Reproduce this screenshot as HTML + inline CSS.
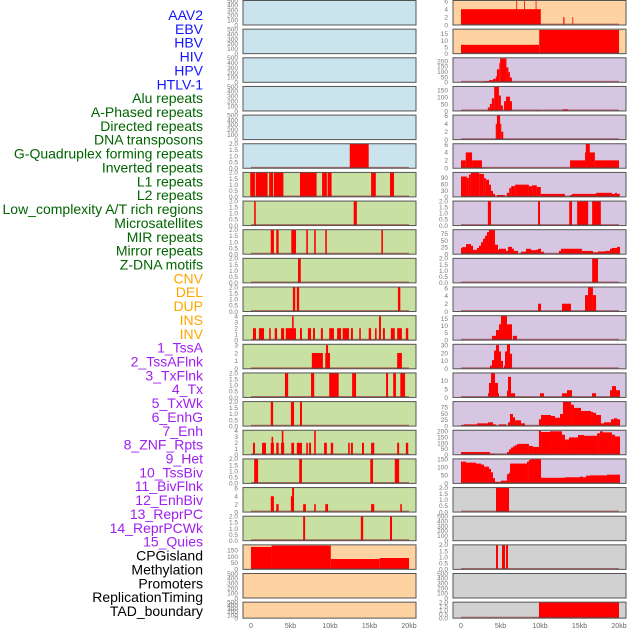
<!DOCTYPE html>
<html><head><meta charset="utf-8">
<style>
html,body{margin:0;padding:0;background:#fff;}
svg{display:block;font-family:"Liberation Sans",sans-serif;}
</style></head>
<body>
<svg id="chart" width="630" height="630" viewBox="0 0 630 630" xmlns="http://www.w3.org/2000/svg">
<g id="labels"></g>
<g id="panels"></g>
<g id="xaxes"></g>
</svg>
<script>
const trackLabels=["AAV2","EBV","HBV","HIV","HPV","HTLV-1","Alu repeats","A-Phased repeats","Directed repeats","DNA transposons","G-Quadruplex forming repeats","Inverted repeats","L1 repeats","L2 repeats","Low_complexity A/T rich regions","Microsatellites","MIR repeats","Mirror repeats","Z-DNA motifs","CNV","DEL","DUP","INS","INV","1_TssA","2_TssAFlnk","3_TxFlnk","4_Tx","5_TxWk","6_EnhG","7_Enh","8_ZNF_Rpts","9_Het","10_TssBiv","11_BivFlnk","12_EnhBiv","13_ReprPC","14_ReprPCWk","15_Quies","CPGisland","Methylation","Promoters","ReplicationTiming","TAD_boundary"];
const labelGroups=[6,13,5,15,5];
const groupColors=["#1414ff","#006400","#ffa500","#a020f0","#000000"];
const xTicks=[0,5,10,15,20];
const xTickLabels=["0","5kb","10kb","15kb","20kb"];
const T500=[0,100,200,300,400,500];
const T2=[0,0.5,1,1.5,2];
const T6=[0,2,4,6];
const T4=[0,1,2,3,4];
const T3=[0,1,2,3];
const T15=[0,5,10,15];
const T200=[0,50,100,150,200];
const T150=[0,50,100,150];
const T90=[0,30,60,90];
const T75=[0,25,50,75];
const T30=[0,10,20,30];
const T10=[0,5,10];

// left column segments [startKb,endKb,value]
const L5=[[12.5,14.9,2]];
const L6=[[-0.1,0.5,2],[0.6,2.1,2],[2.3,2.8,2],[2.9,4.1,2],[6.2,8.3,2],[9.0,9.6,2],[9.7,10.2,2],[15.2,15.8,2],[17.6,18.1,2]];
const L7=[[0.4,0.6,2],[13.0,13.4,2]];
const L8=[[2.5,2.9,2],[3.2,3.5,2],[5.1,5.7,2],[7.0,7.2,2],[8.0,8.2,2],[9.4,9.6,2],[16.5,16.7,2]];
const L9=[[5.95,6.3,2]];
const L10=[[5.3,5.6,2],[5.8,6.1,2],[18.6,18.9,2]];
const L11=[[0.25,0.63,2],[1.0,1.65,2],[2.3,2.5,2],[3.0,3.3,2],[3.8,4.2,2],[4.4,5.7,2],[5.2,5.4,4],[6.2,6.45,2],[7.2,7.6,2],[7.85,8.1,2],[8.85,9.1,2],[9.9,10.5,2],[10.9,11.4,2],[11.6,12.4,2],[12.65,12.9,2],[13.7,13.9,2],[14.9,15.2,2],[15.7,15.9,2],[16.2,16.45,4],[16.7,16.95,2],[17.7,18.2,2],[18.5,19.1,2],[19.6,19.9,2]];
const L12=[[7.7,9.1,2],[9.4,10.0,2],[9.5,9.75,3],[18.5,19.1,2]];
const L13=[[4.3,4.7,2],[7.6,8.0,2],[9.9,11.1,2],[12.8,13.3,2],[17.1,17.35,2],[18.0,18.35,2],[18.9,19.5,2]];
const L14=[[2.5,2.8,2],[5.05,5.45,2],[6.2,6.45,2]];
const L15=[[0.25,0.5,2],[1.4,1.9,2],[2.5,2.9,2],[2.6,2.8,3],[3.2,3.5,2],[3.8,4.2,2],[3.9,4.1,4],[5.1,5.45,2],[5.8,6.45,2],[7.0,7.2,2],[7.35,7.6,2],[8.0,8.2,4],[9.25,9.6,2],[10.1,10.4,2],[12.3,12.5,2],[12.65,12.9,2],[14.05,14.3,2],[15.2,15.6,2],[18.5,18.75,2],[19.6,19.9,2]];
const L16=[[0.4,0.9,2],[6.1,6.45,2],[15.1,15.45,2],[18.2,18.75,2]];
const L17=[[2.5,2.9,4],[3.2,3.5,2],[5.05,5.4,4],[5.2,5.45,6.2],[6.6,6.95,2],[8.0,8.2,2],[9.4,9.75,2],[15.2,15.6,2],[18.9,19.1,2]];
const L18=[[6.6,6.85,2],[13.9,14.2,2],[17.6,17.85,2]];
const L19=[[0,2.6,174],[2.6,10.1,184],[10.1,16.3,80],[16.3,20,88]];

// right column segments
const R0=[[0,10.1,4],[7.0,7.1,7],[8.0,8.1,7],[9.45,9.55,7],[12.95,13.1,2],[14.1,14.2,2]];
const R1=[[0,9.9,6.7],[9.9,20,18]];
const R2=[[2.8,3.55,10],[3.55,4.05,20],[4.05,4.4,32],[4.4,4.55,55],[4.55,4.85,122],[4.85,4.95,180],[4.95,5.75,225],[5.75,6.0,140],[6.0,6.2,95],[6.2,6.45,45]];
const R3=[[2.5,3.05,5],[3.4,3.65,25],[3.65,3.9,50],[3.9,4.2,90],[4.2,4.8,172],[4.8,5.05,110],[5.05,5.3,40],[5.45,5.7,70],[5.7,6.2,102],[6.2,6.45,70],[9.35,10.0,5],[12.9,13.55,12]];
const R4=[[4.4,4.55,4],[4.55,4.95,6.1],[4.95,5.1,4],[5.1,5.35,2]];
const R5=[[0,0.6,2],[0.6,1.4,4],[1.4,2.65,2],[13.8,15.7,2],[15.7,16.95,4],[15.8,16.3,6.2],[16.95,20,2]];
const R6=[[0,0.75,95],[0.75,1.0,88],[1.0,1.25,104],[1.25,2.3,114],[2.3,2.9,107],[2.9,3.15,88],[3.15,3.55,80],[3.55,3.8,57],[3.8,4.05,28],[4.05,4.3,14],[4.55,5.55,9],[5.8,6.1,19],[6.1,6.35,41],[6.35,6.85,50],[6.85,8.6,57],[8.6,9.0,50],[9.0,9.6,54],[9.6,10.1,46],[10.1,13.15,14],[13.8,14.05,9],[14.05,17.1,14],[17.1,19.1,19],[19.1,19.5,14],[19.5,19.75,19],[19.75,20.1,14]];
const R7=[[3.4,3.8,2],[9.75,10.0,2],[13.7,14.05,2],[14.7,16.1,2],[16.6,17.7,2]];
const R8=[[0,0.13,23],[0.13,0.63,26],[0.63,1.27,37],[1.27,1.52,31],[1.52,2.03,16],[2.03,2.28,23],[2.28,2.53,31],[2.53,2.78,44],[2.78,3.04,57],[3.04,3.29,68],[3.29,3.54,81],[3.54,4.3,89],[4.3,4.68,35],[4.68,4.81,16],[4.81,5.7,20],[5.7,5.95,12],[5.95,6.46,27],[6.46,6.71,20],[6.71,7.22,12],[7.59,8.23,9],[8.23,8.86,20],[8.86,9.49,15],[9.49,9.75,16],[9.75,10.13,20],[10.13,10.5,9],[12.4,12.66,12],[12.66,15.3,20],[15.3,16.7,12],[16.7,17.34,7],[17.34,18.23,10],[18.23,18.86,12],[18.86,19.11,20],[19.11,19.75,23],[19.75,20.13,27]];
const R9=[[16.6,17.34,2]];
const R10=[[9.75,10.13,2],[12.78,13.92,2],[15.7,16.08,4.2],[16.08,16.7,6.3],[16.7,17.1,4.2]];
const R11=[[3.92,4.43,3],[4.43,4.81,7],[4.81,5.06,11],[5.06,5.82,17],[5.82,6.46,11],[6.58,7.09,3]];
const R12=[[3.67,3.92,4],[3.92,4.18,11],[4.18,4.43,23],[4.43,4.81,30],[4.81,5.06,22],[5.06,5.32,10],[5.44,5.57,4],[5.57,5.82,22],[5.82,6.2,31],[6.2,6.46,19]];
const R13=[[3.42,3.54,2.5],[3.54,3.8,8.6],[3.8,4.3,14.5],[4.3,4.68,8.6],[4.68,4.81,2.5],[5.82,5.95,4],[5.95,6.33,12.2],[6.33,6.84,2.5],[10.0,10.5,2.5],[12.78,13.42,2.5],[13.42,14.05,4.3],[16.58,17.09,2.5],[18.86,19.11,4.3],[19.11,19.62,6.7],[19.62,20.13,4.3]];
const R14=[[0,0.38,4],[0.38,2.03,7],[2.03,3.42,11],[3.42,4.05,15],[4.05,4.43,7],[4.81,5.7,7],[5.95,6.2,15],[6.2,6.58,48],[6.58,6.84,35],[6.84,7.59,23],[7.59,8.1,11],[9.87,10.13,27],[10.13,11.39,44],[11.39,11.9,40],[11.9,12.53,33],[12.53,12.91,48],[12.91,13.92,97],[13.92,14.3,85],[14.3,15.19,72],[15.19,16.46,60],[16.46,16.71,56],[16.71,17.09,53],[17.09,17.72,44],[17.72,18.1,11],[18.1,18.99,15],[18.99,19.37,27],[19.37,19.75,31],[19.75,20.13,27]];
const R15=[[0,3.67,23],[3.67,4.3,9],[4.3,5.82,3],[5.82,6.08,23],[6.08,6.33,46],[6.33,6.58,61],[6.58,6.84,72],[6.84,7.09,81],[7.09,7.34,90],[7.34,8.6,93],[8.6,9.11,75],[9.11,9.87,67],[9.87,10.13,209],[10.13,11.27,194],[11.27,12.78,200],[12.78,13.16,171],[13.16,13.67,130],[13.67,14.81,148],[14.81,15.57,168],[15.57,17.22,162],[17.22,17.59,183],[17.59,17.97,200],[17.97,19.11,191],[19.11,19.49,171],[19.49,20.13,156]];
const R16=[[0,0.63,135],[0.63,1.9,129],[1.9,2.53,123],[2.53,2.91,117],[2.91,3.54,104],[3.54,3.8,90],[3.8,4.05,69],[4.05,4.3,33],[4.3,5.06,10],[5.06,5.82,17],[5.82,6.08,58],[6.08,6.2,67],[6.2,8.35,123],[8.35,8.6,135],[8.6,8.86,146],[8.86,10.13,152],[10.13,13.16,35],[13.16,15.06,38],[15.06,15.44,42],[15.44,15.82,38],[15.82,16.33,48],[16.33,18.48,50],[18.48,20.13,54]];
const R17=[[4.43,6.08,2]];
const R19=[[4.43,4.68,2],[5.19,5.57,2],[5.7,5.95,2]];
const R21=[[9.87,20,2]];

const BG={blue:"#c9e4ec",green:"#c8e0a2",peach:"#ffd2a2",purple:"#d6c6e2",gray:"#d1d1d1"};
const leftCol=[
 [[],500,T500,"blue"],[[],500,T500,"blue"],[[],500,T500,"blue"],[[],500,T500,"blue"],[[],500,T500,"blue"],
 [L5,2,T2,"blue"],[L6,2,T2,"green"],[L7,2,T2,"green"],[L8,2,T2,"green"],[L9,2,T2,"green"],[L10,2,T2,"green"],
 [L11,4.1,T4,"green"],[L12,3.1,T3,"green"],[L13,2,T2,"green"],[L14,2,T2,"green"],[L15,4.1,T4,"green"],
 [L16,2,T2,"green"],[L17,6.2,T6,"green"],[L18,2,T2,"green"],[L19,190,T150,"peach"],[[],500,T500,"peach"],[[],500,T500,"peach"]];
const rightCol=[
 [R0,6.2,T6,"peach"],[R1,18.6,T15,"peach"],[R2,230,T200,"purple"],[R3,175,T150,"purple"],[R4,6.2,T6,"purple"],
 [R5,6.2,T6,"purple"],[R6,114,T90,"purple"],[R7,2,T2,"purple"],[R8,90,T75,"purple"],[R9,2,T2,"purple"],
 [R10,6.3,T6,"purple"],[R11,17,T15,"purple"],[R12,31,T30,"purple"],[R13,14.5,T10,"purple"],[R14,97,T75,"purple"],
 [R15,209,T200,"purple"],[R16,152,T150,"purple"],[R17,2,T2,"gray"],[[],500,T500,"gray"],[R19,2,T2,"gray"],
 [[],500,T500,"gray"],[R21,2,T2,"gray"]];

const NS="http://www.w3.org/2000/svg";
function mk(tag,attrs,parent){const e=document.createElementNS(NS,tag);for(const k in attrs)e.setAttribute(k,attrs[k]);parent.appendChild(e);return e;}

// labels
const gl=document.getElementById("labels");
let li=0;
labelGroups.forEach((n,gi)=>{for(let j=0;j<n;j++){
 const t=mk("text",{x:203,y:15+li*13.86+5,"text-anchor":"end","font-size":"14",fill:groupColors[gi]},gl);
 t.textContent=trackLabels[li];
 
 
 li++;}});

const gp=document.getElementById("panels");
const cols=[{x0:243,x1:416,d0:251,d1:409,tickX:238},{x0:453,x1:626,d0:461,d1:619,tickX:448}];
function xs(c,kb){return c.d0+(kb-xTicks[0])/(xTicks[4]-xTicks[0])*(c.d1-c.d0);}
function fmt(v,ticks){return ticks===T2?v.toFixed(1):String(v);}
[leftCol,rightCol].forEach((colData,ci)=>{
 const c=cols[ci];
 colData.forEach((p,ri)=>{
  const [segs,ymax,ticks,bg]=p;
  const top=ri*28.65+0.5, h=(ri===21?16:24.5);
  const g=mk("g",{},gp);
  
  
  const ys=v=>top+h-Math.min(v,ymax)/ymax*h;
  mk("rect",{x:c.x0,y:top,width:c.x1-c.x0,height:h,fill:BG[bg]},g);
  segs.forEach(s=>{
   const x0=Math.max(c.x0,xs(c,s[0])),x1=Math.min(c.x1,xs(c,s[1]));
   const r=mk("rect",{x:x0,y:ys(s[2]),width:Math.max(0.8,x1-x0),height:top+h-ys(s[2]),fill:"#ff0000"},g);
   
   
  });
  if(segs.length) mk("line",{x1:xs(c,0),x2:xs(c,20),y1:top+h-0.7,y2:top+h-0.7,stroke:"rgba(150,40,40,0.65)","stroke-width":1.4},g);
  mk("rect",{x:c.x0,y:top,width:c.x1-c.x0,height:h,fill:"none",stroke:"#555","stroke-width":1},g);
  ticks.forEach(v=>{
   const t=mk("text",{x:c.tickX,y:ys(v)+2.3,"text-anchor":"end","font-size":"6.5",fill:"#777"},g);
   t.textContent=fmt(v,ticks);
   
   
  });
 });
 const ga=document.getElementById("xaxes");
 xTicks.forEach((v,i)=>{
  const t=mk("text",{x:xs(c,v),y:628,"text-anchor":"middle","font-size":"7",fill:"#666"},ga);
  t.textContent=xTickLabels[i];
  
  
 });
});
</script>
</body></html>
